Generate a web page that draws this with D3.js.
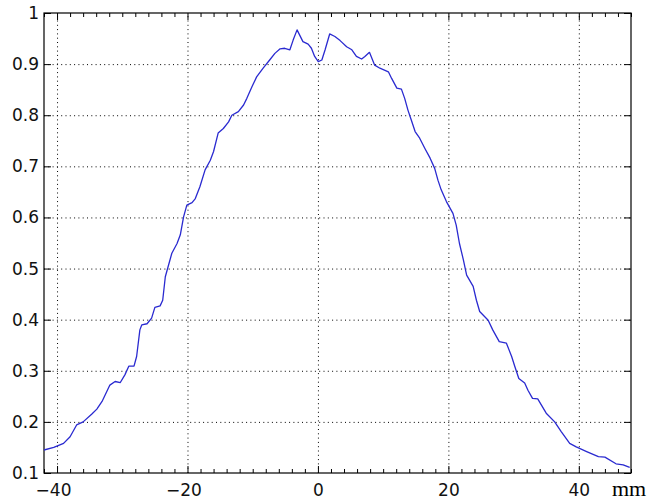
<!DOCTYPE html>
<html>
<head>
<meta charset="utf-8">
<script src="https://cdn.jsdelivr.net/npm/d3@7"></script>
<style>
  body { margin: 0; background: #fff; }
  .tick text { font-family: "DejaVu Sans", sans-serif; font-size: 17px; fill: #111; }
  .grid line { stroke: #000; stroke-dasharray: 1, 3.3; }
  .grid path { display: none; }
  .ax path { display: none; }
  .ax line { stroke: #000; }
</style>
</head>
<body>
<script>
// profile (position in mm, relative value)
const xs = [-42.0, -40.5, -39.0, -38.0, -37.0, -36.0, -34.7, -33.9, -33.1, -31.9,
  -31.1, -30.3, -29.6, -29.0, -28.2, -27.8, -27.3, -27.0, -26.2, -25.5,
  -25.0, -24.2, -23.8, -23.4, -22.9, -22.4, -21.6, -21.1, -20.6, -20.1,
  -19.3, -18.8, -18.1, -17.3, -16.5, -16.0, -15.3, -14.5, -13.7, -13.2,
  -12.2, -11.4, -10.9, -10.1, -9.4, -8.4, -7.4, -6.6, -5.8, -5.1,
  -4.3, -3.8, -3.2, -2.3, -1.5, -1.0, -0.5, 0.05, 0.6, 1.1,
  1.8, 2.6, 3.4, 4.4, 5.2, 5.9, 6.7, 7.2, 7.9, 8.7,
  9.5, 10.8, 11.3, 12.1, 12.8, 13.3, 13.8, 14.3, 14.9, 15.6,
  16.4, 17.2, 17.9, 18.4, 18.9, 19.7, 20.7, 21.2, 21.7, 22.3,
  22.8, 23.8, 24.3, 24.8, 26.1, 26.8, 27.8, 28.9, 29.7, 30.2,
  30.8, 31.7, 32.2, 32.9, 33.7, 35.0, 36.3, 37.3, 38.6, 39.6,
  41.2, 43.0, 44.0, 45.7, 46.8, 47.8];
const ys = [0.145, 0.150, 0.158, 0.171, 0.194, 0.200, 0.215, 0.225, 0.240, 0.272,
  0.279, 0.277, 0.292, 0.309, 0.309, 0.328, 0.380, 0.390, 0.392, 0.403,
  0.424, 0.427, 0.438, 0.484, 0.507, 0.530, 0.549, 0.566, 0.601, 0.624,
  0.629, 0.637, 0.660, 0.693, 0.712, 0.729, 0.765, 0.774, 0.787, 0.800,
  0.807, 0.820, 0.833, 0.856, 0.875, 0.892, 0.908, 0.921, 0.930, 0.931,
  0.928, 0.947, 0.967, 0.944, 0.939, 0.931, 0.915, 0.905, 0.908, 0.928,
  0.959, 0.954, 0.946, 0.934, 0.928, 0.915, 0.910, 0.915, 0.923, 0.898,
  0.892, 0.885, 0.872, 0.853, 0.851, 0.833, 0.810, 0.791, 0.768, 0.755,
  0.735, 0.716, 0.696, 0.673, 0.654, 0.631, 0.608, 0.585, 0.549, 0.517,
  0.487, 0.465, 0.438, 0.416, 0.399, 0.380, 0.357, 0.354, 0.328, 0.308,
  0.285, 0.276, 0.262, 0.246, 0.245, 0.217, 0.200, 0.181, 0.158, 0.151,
  0.142, 0.132, 0.131, 0.118, 0.116, 0.111];

const xTicks = [-40, -20, 0, 20, 40];
const xMinor = [-42, -38, -36, -34, -32, -30, -28, -26, -24, -22, -18, -16, -14, -12, -10, -8, -6, -4, -2,
  2, 4, 6, 8, 10, 12, 14, 16, 18, 22, 24, 26, 28, 30, 32, 34, 36, 38, 42, 44, 46, 48];
const yTicks = [0.1, 0.2, 0.3, 0.4, 0.5, 0.6, 0.7, 0.8, 0.9, 1];
const yTickLabels = ["0.1", "0.2", "0.3", "0.4", "0.5", "0.6", "0.7", "0.8", "0.9", "1"];
const xUnit = "mm";

const data = xs.map((d, i) => ({ x: d, y: ys[i] }));

const margin = { top: 13, right: 21, bottom: 29, left: 44 },
    width = 652 - margin.left - margin.right,
    height = 502 - margin.top - margin.bottom;

const x = d3.scaleLinear().domain([-42, 48]).range([0, width]),
    y = d3.scaleLinear().domain([0.1, 1]).range([height, 0]);

const root = d3.select('body').append('svg')
    .attr('width', 652)
    .attr('height', 502);

root.append('rect').attr('width', 652).attr('height', 502).attr('fill', '#fff');

const svg = root.append('g')
    .attr('transform', 'translate(' + margin.left + ',' + margin.top + ')');

// dotted grid
svg.append('g')
    .attr('class', 'grid')
    .attr('transform', 'translate(0,' + height + ')')
    .call(d3.axisBottom(x).tickValues(xTicks).tickSize(-height).tickFormat(''));

svg.append('g')
    .attr('class', 'grid')
    .call(d3.axisLeft(y).tickValues(yTicks.slice(1, -1)).tickSize(-width).tickFormat(''));

// minor ticks, top and bottom
svg.append('g')
    .attr('class', 'ax')
    .attr('transform', 'translate(0,' + height + ')')
    .call(d3.axisBottom(x).tickValues(xMinor).tickSize(-4).tickFormat(''));

svg.append('g')
    .attr('class', 'ax')
    .call(d3.axisTop(x).tickValues(xMinor).tickSize(-4).tickFormat(''));

// major ticks
const xAxis = svg.append('g')
    .attr('class', 'ax')
    .attr('transform', 'translate(0,' + height + ')')
    .call(d3.axisBottom(x).tickValues(xTicks).tickSize(-7).tickPadding(11));

xAxis.selectAll('.tick text')
    .attr('dx', d => d < 0 ? -4 : 0);

svg.append('g')
    .attr('class', 'ax')
    .call(d3.axisTop(x).tickValues(xTicks).tickSize(-7).tickFormat(''));

svg.append('g')
    .attr('class', 'ax')
    .call(d3.axisLeft(y).tickValues(yTicks).tickSize(-7).tickPadding(5)
        .tickFormat((d, i) => yTickLabels[i]));

svg.append('g')
    .attr('class', 'ax')
    .attr('transform', 'translate(' + width + ',0)')
    .call(d3.axisRight(y).tickValues(yTicks).tickSize(-7).tickFormat(''));

// box
svg.append('rect')
    .attr('width', width)
    .attr('height', height)
    .attr('fill', 'none')
    .attr('stroke', '#000')
    .attr('stroke-width', 1.2);

// profile line
svg.append('path')
    .datum(data)
    .attr('fill', 'none')
    .attr('stroke', '#2a2ad0')
    .attr('stroke-width', 1.3)
    .attr('stroke-linejoin', 'round')
    .attr('d', d3.line()
        .x(d => x(d.x))
        .y(d => y(d.y)));

// unit label
svg.append('text')
    .attr('x', width - 19)
    .attr('y', height + 23)
    .attr('font-family', '"Liberation Serif", "Times New Roman", serif')
    .attr('font-size', 22)
    .attr('fill', '#000')
    .text(xUnit);
</script>
</body>
</html>
